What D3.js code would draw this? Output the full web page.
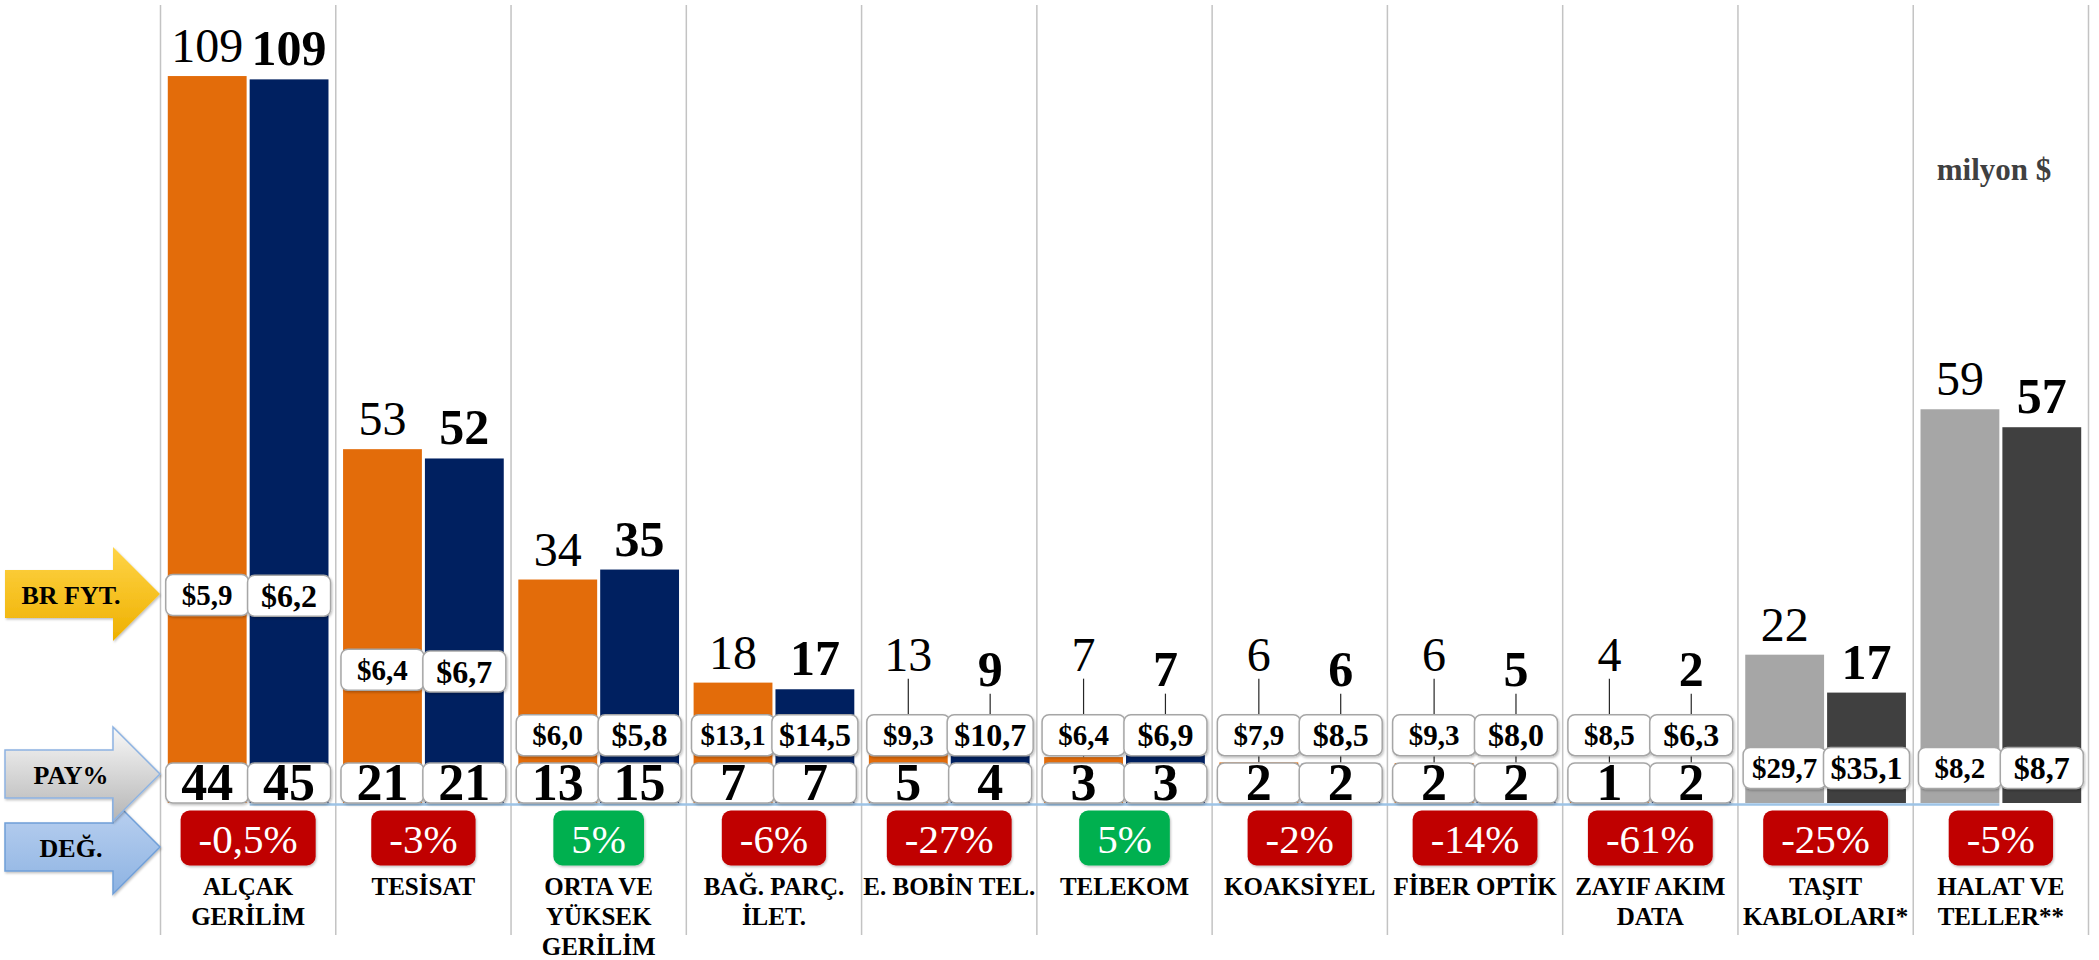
<!DOCTYPE html>
<html lang="tr">
<head>
    <meta charset="UTF-8">
    <script type="text/javascript" src="https://cdn.jsdelivr.net/npm/d3@7"></script>
    <title>Kablo ihracatı</title>
    <style>
        body { margin: 0; background: #fff; }
        svg text { font-family: "Liberation Serif", "DejaVu Serif", serif; }
    </style>
</head>
<body>

</body>
<script>

    // category labels, one array entry per line
    let categoryLines = [
        ["ALÇAK", "GERİLİM"], ["TESİSAT"], ["ORTA VE", "YÜKSEK", "GERİLİM"],
        ["BAĞ. PARÇ.", "İLET."], ["E. BOBİN TEL."], ["TELEKOM"], ["KOAKSİYEL"],
        ["FİBER OPTİK"], ["ZAYIF AKIM", "DATA"], ["TAŞIT", "KABLOLARI*"], ["HALAT VE", "TELLER**"]
    ]
    let categories = categoryLines.map(l => l.join(" "))
    let greyCategories = ["TAŞIT KABLOLARI*", "HALAT VE TELLER**"]

    // milyon $ (first bar, second bar)
    let valuesPrev = [109.3, 53.2, 33.6, 18.1, 13, 6.9, 6.1, 6, 4.4, 22.3, 59.2]
    let valuesCur = [108.8, 51.8, 35.1, 17.1, 9, 7.2, 5.9, 5, 1.7, 16.6, 56.5]
    // BR FYT. ($ / unit)
    let pricesPrev = [5.9, 6.4, 6.0, 13.1, 9.3, 6.4, 7.9, 9.3, 8.5, 29.7, 8.2]
    let pricesCur = [6.2, 6.7, 5.8, 14.5, 10.7, 6.9, 8.5, 8.0, 6.3, 35.1, 8.7]
    // PAY% (none for the last two)
    let sharesPrev = [44, 21, 13, 7, 5, 3, 2, 2, 1, null, null]
    let sharesCur = [45, 21, 15, 7, 4, 3, 2, 2, 2, null, null]
    // DEĞ. %
    let changes = [-0.5, -3, 5, -6, -27, 5, -2, -14, -61, -25, -5]

    let width = 2099,
        height = 960,
        base = 803,
        serif = "Liberation Serif, DejaVu Serif, serif"

    let x = d3.scaleBand()
        .domain(categories)
        .range([160.5, 2088.5])
    let xs = d3.scaleBand()
        .domain([0, 1])
        .range([0, x.bandwidth()])
        .paddingInner(0.037)
        .paddingOuter(0.089)
    let y = d3.scaleLinear()
        .domain([0, 110])
        .range([base, base - 110 * 6.651])

    let loc = d3.formatLocale({decimal: ",", thousands: ".", grouping: [3], currency: ["$", ""], minus: "-"})
    let priceFmt = v => "$" + loc.format(".1f")(v)
    let changeFmt = v => loc.format(Number.isInteger(v) ? "d" : ".1f")(v) + "%"

    let series = [
        {values: valuesPrev, prices: pricesPrev, shares: sharesPrev, colors: ["#E36C0A", "#A6A6A6"], bold: false, lift: 44},
        {values: valuesCur, prices: pricesCur, shares: sharesCur, colors: ["#002060", "#404040"], bold: true, lift: 29}
    ]

    let points = []
    categories.forEach(function (c, i) {
        series.forEach(function (s, k) {
            points.push({
                c: c, i: i, k: k,
                v: s.values[i], price: s.prices[i], share: s.shares[i],
                color: s.colors[greyCategories.includes(c) ? 1 : 0],
                bold: s.bold, lift: s.lift,
                cx: x(c) + xs(k) + xs.bandwidth() / 2
            })
        })
    })

    // price tag sits higher inside tall bars, otherwise just above the share tag
    function priceY(d) {
        if (d.share == null) return base - 35
        return d.v > 40 ? y(9.4 + 0.2 * d.v) : y(10.2)
    }

    // value label baseline: above the bar, but kept clear of the price tag
    function labelY(d) {
        return Math.min(y(d.v) - 14, priceY(d) - 20.5 - d.lift)
    }

    let svg = d3.select("body")
        .append("svg")
        .attr("width", width)
        .attr("height", height)
        .attr("font-family", serif)

    let defs = svg.append("defs")
    defs.append("filter").attr("id", "shadow")
        .attr("x", "-20%").attr("y", "-20%").attr("width", "140%").attr("height", "150%")
        .append("feDropShadow")
        .attr("dx", 1).attr("dy", 1.5).attr("stdDeviation", 1.2)
        .attr("flood-color", "#000").attr("flood-opacity", 0.25)
    addGradient("gYellow", "#ffd447", "#eeb000")
    addGradient("gGrey", "#f8f8f8", "#b5b5b5")
    addGradient("gBlue", "#bcd2f1", "#8db3e2")

    function addGradient(id, c1, c2) {
        let g = defs.append("linearGradient").attr("id", id)
            .attr("x1", 0).attr("y1", 0).attr("x2", 0).attr("y2", 1)
        g.append("stop").attr("offset", "0%").attr("stop-color", c1)
        g.append("stop").attr("offset", "100%").attr("stop-color", c2)
    }

    // column separators
    svg.append("g").selectAll("line")
        .data(categories.map(c => x(c)).concat([x.range()[1]]))
        .enter()
        .append("line")
        .attr("x1", d => d).attr("x2", d => d)
        .attr("y1", 5).attr("y2", 935)
        .attr("stroke", "#c3c3c3")
        .attr("stroke-width", 1.5)

    // base line
    let last = categories[categories.length - 1]
    svg.append("line")
        .attr("x1", x(categories[0]) + xs(1))
        .attr("x2", x(last) + xs(0) + xs.bandwidth())
        .attr("y1", base + 1.5).attr("y2", base + 1.5)
        .attr("stroke", "#9dc3e6")
        .attr("stroke-width", 2.5)

    renderBars()
    renderValueLabels()
    renderPriceTags()
    renderShareTags()
    renderChanges()
    renderCategoryLabels()
    renderArrows()

    svg.append("text")
        .attr("x", 1994).attr("y", 180)
        .attr("text-anchor", "middle")
        .attr("font-size", 31).attr("font-weight", "bold")
        .attr("fill", "#404040")
        .text("milyon $")

    function renderBars() {
        svg.append("g").selectAll("rect")
            .data(points)
            .enter()
            .append("rect")
            .attr("x", d => x(d.c) + xs(d.k))
            .attr("width", xs.bandwidth())
            .attr("y", d => y(d.v))
            .attr("height", d => base - y(d.v))
            .attr("fill", d => d.color)
    }

    function renderValueLabels() {
        let lifted = points.filter(d => y(d.v) - 14 - labelY(d) > 8)
        svg.append("g").selectAll("line")
            .data(lifted)
            .enter()
            .append("line")
            .attr("x1", d => d.cx).attr("x2", d => d.cx)
            .attr("y1", d => labelY(d) + 8)
            .attr("y2", d => y(d.v))
            .attr("stroke", "#262626")
            .attr("stroke-width", 1.2)

        svg.append("g").selectAll("text")
            .data(points)
            .enter()
            .append("text")
            .attr("x", d => d.cx)
            .attr("y", d => labelY(d))
            .attr("text-anchor", "middle")
            .attr("font-size", d => d.bold ? 50 : 48)
            .attr("font-weight", d => d.bold ? "bold" : "normal")
            .text(d => Math.round(d.v))
    }

    function renderPriceTags() {
        let g = svg.append("g").selectAll("g")
            .data(points)
            .enter()
            .append("g")
            .attr("transform", d => `translate(${d.cx},${priceY(d)})`)
        g.append("rect")
            .attr("rx", 7)
            .attr("fill", "#fff")
            .attr("stroke", "#a6a6a6")
            .attr("stroke-width", 1.5)
            .attr("filter", "url(#shadow)")
        g.append("text")
            .attr("text-anchor", "middle")
            .attr("dy", "0.35em")
            .attr("font-size", d => d.bold ? 32 : 29)
            .attr("font-weight", "bold")
            .text(d => priceFmt(d.price))
        g.each(function () {
            let tw = d3.select(this).select("text").node().getComputedTextLength()
            let w = Math.max(83, tw + 14)
            d3.select(this).select("rect")
                .attr("x", -w / 2).attr("y", -20.5)
                .attr("width", w).attr("height", 41)
        })
    }

    function renderShareTags() {
        let g = svg.append("g").selectAll("g")
            .data(points.filter(d => d.share != null))
            .enter()
            .append("g")
            .attr("transform", d => `translate(${d.cx},${base - 20})`)
        g.append("rect")
            .attr("x", -41.5).attr("y", -20)
            .attr("width", 83).attr("height", 40)
            .attr("rx", 7)
            .attr("fill", "#fff")
            .attr("stroke", "#a6a6a6")
            .attr("stroke-width", 1.5)
            .attr("filter", "url(#shadow)")
        g.append("text")
            .attr("text-anchor", "middle")
            .attr("y", 17)
            .attr("font-size", 52)
            .attr("font-weight", "bold")
            .text(d => d.share)
    }

    function renderChanges() {
        let g = svg.append("g").selectAll("g")
            .data(categories)
            .enter()
            .append("g")
            .attr("transform", d => `translate(${x(d) + x.bandwidth() / 2},838)`)
        g.append("rect")
            .attr("rx", 9)
            .attr("fill", (d, i) => changes[i] < 0 ? "#C00000" : "#00B050")
            .attr("filter", "url(#shadow)")
        g.append("text")
            .attr("text-anchor", "middle")
            .attr("y", 15)
            .attr("font-size", 41)
            .attr("fill", "#fff")
            .text((d, i) => changeFmt(changes[i]))
        g.each(function () {
            let tw = d3.select(this).select("text").node().getComputedTextLength()
            let w = tw + 36
            d3.select(this).select("rect")
                .attr("x", -w / 2).attr("y", -27.5)
                .attr("width", w).attr("height", 55)
        })
    }

    function renderCategoryLabels() {
        svg.append("g").selectAll("text")
            .data(categories)
            .enter()
            .append("text")
            .attr("x", d => x(d) + x.bandwidth() / 2)
            .attr("y", 895)
            .attr("text-anchor", "middle")
            .attr("font-size", 25)
            .attr("font-weight", "bold")
            .each(function (d, i) {
                d3.select(this).selectAll("tspan")
                    .data(categoryLines[i])
                    .enter()
                    .append("tspan")
                    .attr("x", x(d) + x.bandwidth() / 2)
                    .attr("dy", (t, j) => j === 0 ? 0 : 30)
                    .text(t => t)
            })
    }

    function renderArrows() {
        let arrows = [
            {label: "DEĞ.", cy: 847, fill: "url(#gBlue)", stroke: "#6f9fd8"},
            {label: "PAY%", cy: 774, fill: "url(#gGrey)", stroke: "#8db3e2"},
            {label: "BR FYT.", cy: 594, fill: "url(#gYellow)", stroke: "none"}
        ]
        let g = svg.append("g").selectAll("g")
            .data(arrows)
            .enter()
            .append("g")
            .attr("transform", d => `translate(0,${d.cy})`)
        g.append("path")
            .attr("d", "M5,-24 L113,-24 L113,-47 L160,0 L113,47 L113,24 L5,24 Z")
            .attr("fill", d => d.fill)
            .attr("stroke", d => d.stroke)
            .attr("stroke-width", 1.5)
            .attr("filter", "url(#shadow)")
        g.append("text")
            .attr("x", 71)
            .attr("y", 10)
            .attr("text-anchor", "middle")
            .attr("font-size", 26)
            .attr("font-weight", "bold")
            .text(d => d.label)
    }

</script>
</html>
